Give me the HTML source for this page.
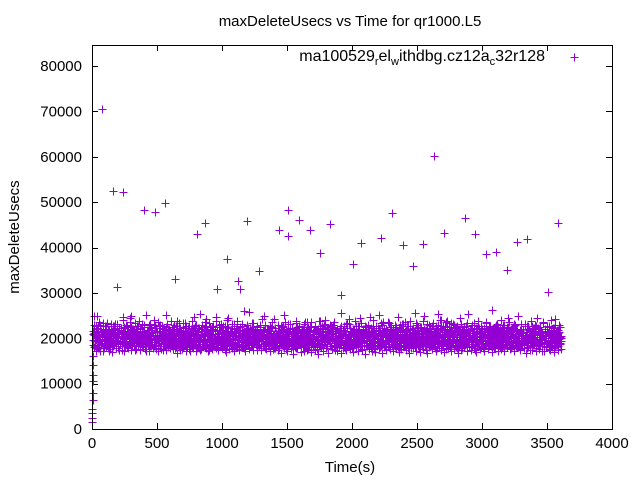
<!DOCTYPE html>
<html><head><meta charset="utf-8"><style>
body{margin:0;background:#fff;}
svg text{font-family:"Liberation Sans",sans-serif;fill:#000;}
</style></head><body>
<svg id="chart" width="640" height="480" xmlns="http://www.w3.org/2000/svg">
<rect width="640" height="480" fill="#fff"/>
<text x="350" y="26" font-size="15" text-anchor="middle">maxDeleteUsecs vs Time for qr1000.L5</text>
<text transform="translate(19,237) rotate(-90)" font-size="15" text-anchor="middle">maxDeleteUsecs</text>
<text x="350" y="472" font-size="15" text-anchor="middle">Time(s)</text>
<g id="grid"></g>
<g id="marks" shape-rendering="crispEdges"></g>
<rect x="92.5" y="45.5" width="520" height="384" fill="none" stroke="#000" stroke-width="1" shape-rendering="crispEdges"/>
<text x="545" y="61" font-size="16" text-anchor="end">ma100529<tspan font-size="11" dy="4">r</tspan><tspan dy="-4">el</tspan><tspan font-size="11" dy="4">w</tspan><tspan dy="-4">ithdbg.cz12a</tspan><tspan font-size="11" dy="4">c</tspan><tspan dy="-4">32r128</tspan></text>
<path d="M570.5 57.5h8M574.5 53.5v8" stroke="#9400d3" stroke-width="1" shape-rendering="crispEdges"/>
</svg>
<script>
const xTicks=[0,500,1000,1500,2000,2500,3000,3500,4000];
const yTicks=[0,10000,20000,30000,40000,50000,60000,70000,80000];
const startT=[0,1,2,3,4,5,6,7,8,9,10,11,12,13];
const startV=[1500,2500,3500,4500,6500,8000,10500,12000,14000,16000,18500,21000,23000,25000];
const outT=[77,162,192,238,400,485,562,638,808,870,962,1038,1123,1138,1192,1285,1438,1508,1508,1592,1677,1754,1831,1915,2008,2069,2223,2308,2392,2469,2546,2631,2708,2869,2946,3031,3108,3192,3269,3346,3508,3585];
const outV=[70500,52500,31300,52200,48200,47800,49700,33000,43000,45500,30800,37500,32700,30800,45800,34800,43800,48200,42600,46000,43800,38800,45100,29500,36300,41000,42100,47500,40500,36000,40700,60200,43200,46600,43000,38600,39000,35000,41300,41800,30200,45300];
const bandStep=7.5;
const bandV=[
196,212,184,203,221,178,199,230,189,207,215,182,194,226,201,187,219,176,208,193,
204,188,231,197,214,179,222,190,209,183,246,195,217,186,202,228,180,211,198,225,
185,213,199,176,220,192,207,238,183,201,216,189,224,177,205,194,219,187,232,200,
191,208,182,223,196,214,178,206,229,188,199,217,184,211,193,252,186,203,221,179,
197,215,190,207,181,226,195,210,185,218,200,176,213,192,234,187,205,222,183,196,
209,180,219,194,227,188,202,214,178,199,221,191,206,184,216,197,243,186,211,193,
182,205,224,190,198,215,179,209,187,229,194,203,218,185,200,212,177,224,196,208,
189,216,201,183,227,192,206,180,219,197,211,186,231,195,202,178,214,190,223,199,
187,209,194,221,181,204,216,192,228,185,198,213,179,207,195,248,189,202,219,183,
200,215,186,224,191,207,178,212,196,230,184,203,218,190,199,226,181,210,193,216,
185,201,222,189,206,179,214,197,233,186,204,219,192,182,211,198,225,187,203,215,
194,180,208,227,190,199,216,183,212,195,221,186,205,239,181,198,213,191,224,200,
187,210,196,218,182,206,229,193,200,215,184,211,197,222,188,204,178,217,195,231,
190,207,185,223,199,213,181,209,194,226,187,202,218,192,245,183,206,214,197,220,
186,201,228,190,208,179,216,195,211,184,223,199,205,191,219,182,213,236,188,203,
196,217,183,209,225,191,200,212,186,221,194,207,180,215,198,230,189,204,220,185,
202,214,193,226,181,208,197,219,188,211,255,184,201,216,195,223,187,206,212,199,
184,209,222,192,203,217,186,228,198,205,181,214,194,221,189,207,240,196,210,183,
199,213,187,224,192,206,218,184,211,197,229,190,202,215,186,220,194,208,178,217,
191,204,226,188,212,196,219,183,207,200,233,186,214,195,222,189,203,211,181,216,
197,208,185,220,193,214,202,227,189,206,182,218,196,211,187,225,199,204,191,213,
184,219,200,210,188,224,195,206,179,215,192,232,186,203,221,197,209,183,217,194,
201,212,187,226,196,205,190,218,182,213,199,223,188,207,195,244,185,211,202,216,
190,206,197,221,184,214,193,228,200,209,186,219,195,204,181,217,198,212,189,203];

const X=v=>92+v*0.13;
const Y=v=>429-v*0.0045375;
const ns="http://www.w3.org/2000/svg";
const grid=document.getElementById('grid');
const marks=document.getElementById('marks');
xTicks.forEach(t=>{
  const x=Math.round(X(t))+0.5;
  const p=document.createElementNS(ns,'path');
  p.setAttribute('d',`M${x} 429v-6M${x} 45v6`);
  p.setAttribute('stroke','#000');
  
  
  grid.appendChild(p);
  const tx=document.createElementNS(ns,'text');
  tx.setAttribute('x',X(t));tx.setAttribute('y',448);
  tx.setAttribute('font-size','15');tx.setAttribute('text-anchor','middle');
  tx.textContent=t;
  
  
  grid.appendChild(tx);
});
yTicks.forEach(t=>{
  const y=Math.round(Y(t))+0.5;
  const p=document.createElementNS(ns,'path');
  p.setAttribute('d',`M92 ${y}h6M612 ${y}h-6`);
  p.setAttribute('stroke','#000');
  
  
  grid.appendChild(p);
  const tx=document.createElementNS(ns,'text');
  tx.setAttribute('x',82);tx.setAttribute('y',Y(t)+5);
  tx.setAttribute('font-size','15');tx.setAttribute('text-anchor','end');
  tx.textContent=t;
  
  
  grid.appendChild(tx);
});
let d='';
function plus(t,v){const x=Math.round(X(t))+0.5,y=Math.round(Y(v))+0.5;d+=`M${x-4} ${y}h8M${x} ${y-4}v8`;}
startT.forEach((t,i)=>plus(t,startV[i]));
bandV.forEach((v,i)=>{plus(10+i*bandStep,v*100);});
bandV.forEach((v,i)=>{const j=(i+37)%bandV.length;plus(13+i*bandStep,(bandV[j]-4)*100);});
bandV.forEach((v,i)=>{const j=(i+171)%bandV.length;plus(11.5+i*bandStep,(bandV[j]+2)*100);});
bandV.forEach((v,i)=>{const j=(i+293)%bandV.length;plus(14.5+i*bandStep,(bandV[j]-10)*100);});
bandV.forEach((v,i)=>{const j=(i+401)%bandV.length;plus(12+i*bandStep,(bandV[j]+8)*100);});
outT.forEach((t,i)=>plus(t,outV[i]));
const path=document.createElementNS(ns,'path');
path.setAttribute('d',d);
path.setAttribute('stroke','#9400d3');
path.setAttribute('stroke-width','1');
path.setAttribute('fill','none');


marks.appendChild(path);
</script>
</body></html>
